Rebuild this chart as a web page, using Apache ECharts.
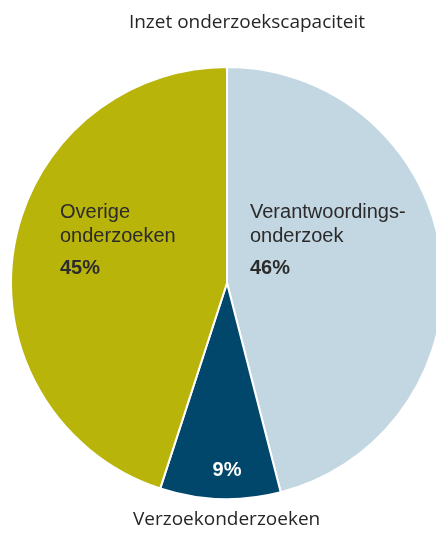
<!DOCTYPE html>
<html>
<head>
<meta charset="utf-8">
<script src="https://cdn.jsdelivr.net/npm/echarts@6/dist/echarts.min.js"></script>
<style>html,body{margin:0;padding:0;background:#fff}#c{width:436px;height:533px}</style>
</head>
<body>
<div id="c"></div>
<script>
const chartTitle = 'Inzet onderzoekscapaciteit';
const categories = ['Verantwoordings-\nonderzoek', 'Verzoekonderzoeken', 'Overige\nonderzoeken'];
const values = [46, 9, 45];
const colors = ['#c3d7e3', '#00476b', '#b9b40a'];
const bottomLabel = 'Verzoekonderzoeken';

const chart = echarts.init(document.getElementById('c'), null, {renderer: 'canvas'});
const labelPos = [
  {x: 250, y: 200, align: 'left', verticalAlign: 'top'},
  {x: 227, y: 470, align: 'center', verticalAlign: 'middle'},
  {x: 60, y: 200, align: 'left', verticalAlign: 'top'}
];
chart.setOption({
  animation: false,
  title: {
    text: chartTitle, left: 242, top: 8, textAlign: 'center',
    textStyle: {fontFamily: 'Open Sans', fontSize: 19, fontWeight: 'normal', color: '#262626'}
  },
  graphic: [{
    type: 'text', left: 133, top: 510,
    style: {text: bottomLabel, fontFamily: 'Open Sans', fontSize: 19, fill: '#262626'}
  }],
  series: [{
    type: 'pie',
    center: [227, 283],
    radius: 216,
    startAngle: 90,
    clockwise: true,
    itemStyle: {borderColor: '#ffffff', borderWidth: 2},
    label: {
      show: true,
      position: 'inside',
      formatter: function (p) {
        if (p.dataIndex === 1) return '{w|' + p.value + '%}';
        return p.name.split('\n').map(s => '{n|' + s + '}').join('\n') + '\n{p|' + p.value + '%}';
      },
      rich: {
        n: {fontFamily: 'Liberation Sans', fontSize: 20, lineHeight: 24, color: '#2b2b2b'},
        p: {fontFamily: 'Liberation Sans', fontSize: 20, fontWeight: 'bold', lineHeight: 40, color: '#2b2b2b'},
        w: {fontFamily: 'Liberation Sans', fontSize: 20, fontWeight: 'bold', color: '#ffffff'}
      }
    },
    labelLine: {show: false},
    labelLayout: function (params) {
      return labelPos[params.dataIndex];
    },
    data: categories.map((c, i) => ({name: c, value: values[i], itemStyle: {color: colors[i]}}))
  }]
});
</script>
</body>
</html>
